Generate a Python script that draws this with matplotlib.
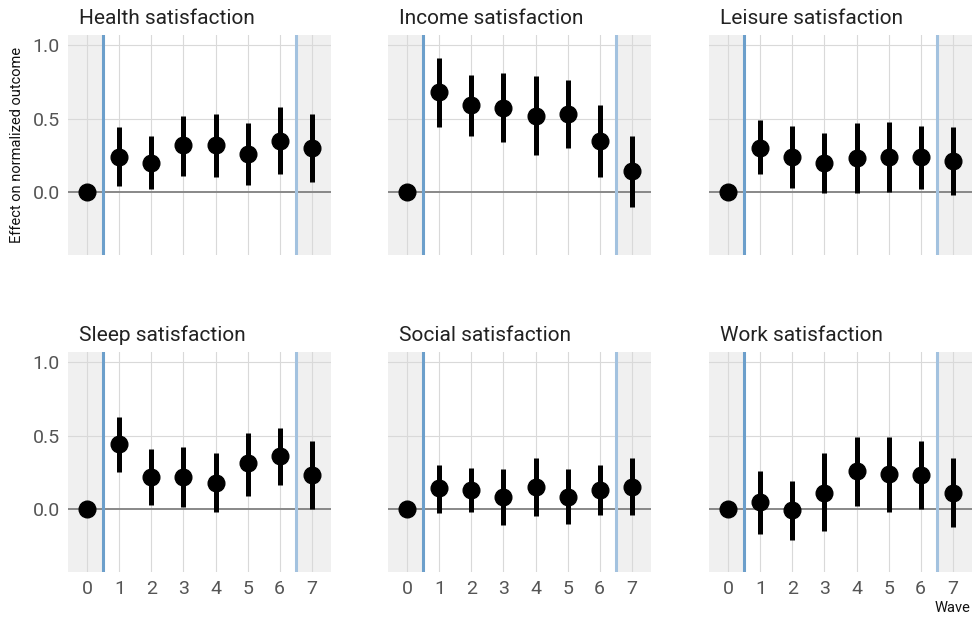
import matplotlib
matplotlib.use("Agg")
import matplotlib.pyplot as plt

waves = [0, 1, 2, 3, 4, 5, 6, 7]
titles = ["Health satisfaction", "Income satisfaction", "Leisure satisfaction",
          "Sleep satisfaction", "Social satisfaction", "Work satisfaction"]

health_est = [0, 0.24, 0.20, 0.32, 0.32, 0.26, 0.35, 0.30]
health_lo = [0, 0.04, 0.02, 0.11, 0.10, 0.05, 0.12, 0.07]
health_hi = [0, 0.44, 0.38, 0.52, 0.53, 0.47, 0.58, 0.53]

income_est = [0, 0.68, 0.59, 0.57, 0.52, 0.53, 0.35, 0.14]
income_lo = [0, 0.44, 0.38, 0.34, 0.25, 0.30, 0.10, -0.10]
income_hi = [0, 0.91, 0.80, 0.81, 0.79, 0.76, 0.59, 0.38]

leisure_est = [0, 0.30, 0.24, 0.20, 0.23, 0.24, 0.24, 0.21]
leisure_lo = [0, 0.12, 0.03, -0.01, -0.01, 0.00, 0.02, -0.02]
leisure_hi = [0, 0.49, 0.45, 0.40, 0.47, 0.48, 0.45, 0.44]

sleep_est = [0, 0.44, 0.22, 0.22, 0.18, 0.31, 0.36, 0.23]
sleep_lo = [0, 0.25, 0.03, 0.01, -0.02, 0.09, 0.16, 0.00]
sleep_hi = [0, 0.63, 0.41, 0.42, 0.38, 0.52, 0.55, 0.46]

social_est = [0, 0.14, 0.13, 0.08, 0.15, 0.08, 0.13, 0.15]
social_lo = [0, -0.03, -0.02, -0.11, -0.05, -0.10, -0.04, -0.04]
social_hi = [0, 0.30, 0.28, 0.27, 0.35, 0.27, 0.30, 0.35]

work_est = [0, 0.05, -0.01, 0.11, 0.26, 0.24, 0.23, 0.11]
work_lo = [0, -0.17, -0.21, -0.15, 0.02, -0.02, 0.00, -0.12]
work_hi = [0, 0.26, 0.19, 0.38, 0.49, 0.49, 0.46, 0.35]

series = [(health_est, health_lo, health_hi), (income_est, income_lo, income_hi),
          (leisure_est, leisure_lo, leisure_hi), (sleep_est, sleep_lo, sleep_hi),
          (social_est, social_lo, social_hi), (work_est, work_lo, work_hi)]

plt.rcParams['font.family'] = ['Roboto', 'DejaVu Sans']

fig = plt.figure(figsize=(9.72, 6.2), dpi=100)
W, H = 972, 620
col_x = [68, 388, 709]
row_y = [(35, 255), (352, 572)]
pw = 263

for i, (title, (est, lo, hi)) in enumerate(zip(titles, series)):
    r, c = divmod(i, 3)
    top, bot = row_y[r]
    ax = fig.add_axes([col_x[c] / W, 1 - bot / H, pw / W, (bot - top) / H])
    xmin, xmax = -0.6, 7.6
    ymin, ymax = -0.43, 1.07
    ax.set_xlim(xmin, xmax)
    ax.set_ylim(ymin, ymax)
    ax.axvspan(xmin, 0.5, color='#f0f0f0', zorder=0, lw=0)
    ax.axvspan(6.5, xmax, color='#f0f0f0', zorder=0, lw=0)
    for w in waves:
        ax.axvline(w, color='#d9d9d9', lw=0.8, zorder=0.5)
    for yv in [0.5, 1.0]:
        ax.axhline(yv, color='#d9d9d9', lw=0.8, zorder=0.5)
    ax.axhline(0, color='#888888', lw=1.4, zorder=1)
    ax.axvline(0.5, color='#6c9fcb', lw=2.2, zorder=1.5)
    ax.axvline(6.5, color='#a3c2df', lw=2.2, zorder=1.5)
    for x, e, l, h in zip(waves, est, lo, hi):
        if h != l:
            ax.plot([x, x], [l, h], color='black', lw=3.6, solid_capstyle='butt', zorder=2)
    ax.plot(waves, est, 'o', color='black', ms=12, zorder=3)
    for s in ax.spines.values():
        s.set_visible(False)
    ax.tick_params(length=0, labelsize=14, labelcolor='#555555', pad=6)
    ax.set_xticks(waves)
    ax.set_yticks([0.0, 0.5, 1.0])
    ax.set_yticklabels(['0.0', '0.5', '1.0'])
    if r == 0:
        ax.set_xticklabels([])
    if c != 0:
        ax.set_yticklabels([])
    ax.set_title(title, loc='left', fontsize=15, color='#222222', pad=8, x=0.04)
    if i == 0:
        ax.set_ylabel('Effect on normalized outcome', fontsize=10.5, color='#111111', labelpad=6)

fig.text(970 / W, 1 - 608 / H, 'Wave', ha='right', va='center', fontsize=10.5, color='#111111')

fig.savefig('out.png', dpi=100)
